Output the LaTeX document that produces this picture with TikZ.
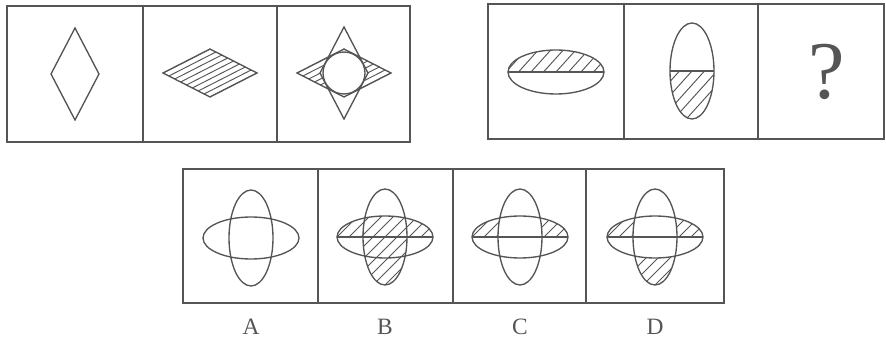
\documentclass[tikz,border=0pt]{standalone}
\usepackage{fontspec}
\setmainfont{Liberation Serif}
\usetikzlibrary{positioning,calc}
\definecolor{ScanGray}{RGB}{85,85,85}
\tikzset{
  panel/.style={draw=ScanGray,line width=1.4pt},
  figline/.style={draw=ScanGray,line width=1.15pt},
  hatchline/.style={draw=ScanGray,line width=0.8pt},
  optlabel/.style={font=\fontsize{20}{20}\selectfont,text=ScanGray,inner sep=0pt},
  qmark/.style={font=\fontsize{70}{70}\selectfont,text=ScanGray,inner sep=0pt},
}
% parallel hatch lines through (#1,#2), angle #3, horizontal step #4
\newcommand{\hatchlines}[4]{%
  \foreach \k in {-12,...,12}
    \draw[hatchline] ({#1+\k*#4-80*cos(#3)},{#2+80*sin(#3)})
      -- ({#1+\k*#4+80*cos(#3)},{#2-80*sin(#3)});}

\begin{document}
\begin{tikzpicture}[x=0.03cm,y=-0.03cm]
  \useasboundingbox (0,0) rectangle (886,342);
  % frames
  \draw[panel] (7,6) rectangle (410,142);
  \foreach \x in {143,277}
    \draw[panel] (\x,6) -- (\x,142);
  \draw[panel] (488,4) rectangle (884,139);
  \foreach \x in {624,758}
    \draw[panel] (\x,4) -- (\x,139);
  \draw[panel] (183,169) rectangle (724,303);
  \foreach \x in {318,453,586}
    \draw[panel] (\x,169) -- (\x,303);

  % first row
  \draw[figline] (75,28) -- (99,74) -- (75,120) -- (51,74) -- cycle;
  \begin{scope}
    \clip (163,73) -- (210,49) -- (257,73) -- (210,97) -- cycle;
    \hatchlines{210}{73}{27}{11.75}
  \end{scope}
  \draw[figline] (163,73) -- (210,49) -- (257,73) -- (210,97) -- cycle;
  \begin{scope}
    \clip (297,73) -- (344,49) -- (391,73) -- (344,97) -- cycle;
    \hatchlines{344}{73}{27}{11.75}
  \end{scope}
  \filldraw[figline,fill=white] (344,27) -- (368,73) -- (344,119) -- (320,73) -- cycle;
  \draw[figline] (297,73) -- (344,49) -- (391,73) -- (344,97) -- cycle;
  \filldraw[figline,fill=white] (344,73) circle (21);

  % second row
  \begin{scope}
    \clip (556,72) ellipse [x radius=48,y radius=22];
    \clip (500,40) rectangle (612,72);
    \hatchlines{556}{72}{48}{12.5}
  \end{scope}
  \draw[figline] (556,72) ellipse [x radius=48,y radius=22];
  \draw[figline] (508,72) -- (604,72);
  \begin{scope}
    \clip (692,71) ellipse [x radius=22,y radius=48];
    \clip (660,71) rectangle (724,125);
    \hatchlines{692}{71}{48}{12.5}
  \end{scope}
  \draw[figline] (692,71) ellipse [x radius=22,y radius=48];
  \draw[figline] (670,71) -- (714,71);
  \node[qmark] (qm) at (827,72) {?};

  % option A
  \draw[figline] (251,238) ellipse [x radius=48,y radius=21];
  \draw[figline] (251,238) ellipse [x radius=22,y radius=48];
  % option B
  \begin{scope}
    \clip (385,237) ellipse [x radius=48,y radius=21];
    \clip (330,200) rectangle (440,237);
    \hatchlines{385}{237}{45}{12}
  \end{scope}
  \begin{scope}
    \clip (385,237) ellipse [x radius=22,y radius=48];
    \clip (355,237) rectangle (415,290);
    \hatchlines{385}{237}{45}{12}
  \end{scope}
  \draw[figline] (385,237) ellipse [x radius=48,y radius=21];
  \draw[figline] (385,237) ellipse [x radius=22,y radius=48];
  \draw[figline] (337,237) -- (433,237);
  % option C
  \begin{scope}
    \clip (520,237) ellipse [x radius=48,y radius=21];
    \clip (465,200) rectangle (575,237);
    \hatchlines{520}{237}{45}{12}
  \end{scope}
  \filldraw[figline,fill=white] (520,237) ellipse [x radius=22,y radius=48];
  \draw[figline] (520,237) ellipse [x radius=48,y radius=21];
  \draw[figline] (472,237) -- (568,237);
  % option D
  \begin{scope}
    \clip (655,237) ellipse [x radius=22,y radius=48];
    \clip (625,237) rectangle (685,290);
    \hatchlines{655}{237}{45}{12}
  \end{scope}
  \fill[white] (655,237) ellipse [x radius=48,y radius=21];
  \begin{scope}
    \clip (655,237) ellipse [x radius=48,y radius=21];
    \clip (600,200) rectangle (710,237);
    \hatchlines{655}{237}{45}{12}
  \end{scope}
  \begin{scope}
    \clip (655,237) ellipse [x radius=22,y radius=48];
    \fill[white] (625,200) rectangle (685,237);
  \end{scope}
  \draw[figline] (655,237) ellipse [x radius=48,y radius=21];
  \draw[figline] (655,237) ellipse [x radius=22,y radius=48];
  \draw[figline] (607,237) -- (703,237);

  \foreach \n/\x in {A/251,B/385,C/520,D/655}
    \node[optlabel] (lab\n) at (\x,327) {\n};
\end{tikzpicture}
\end{document}
